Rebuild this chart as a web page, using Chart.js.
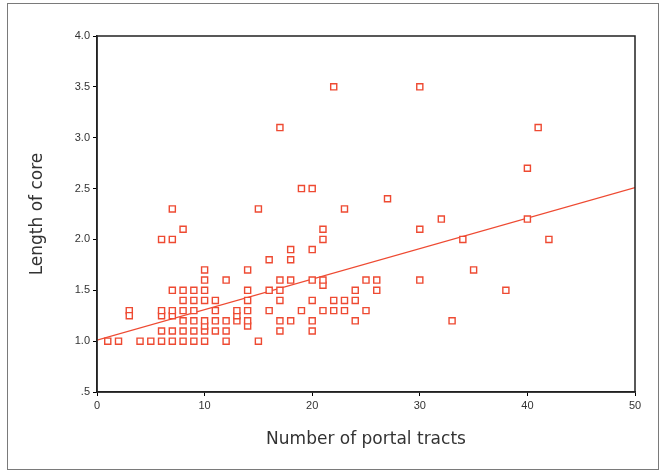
<!DOCTYPE html>
<html>
<head>
<meta charset="utf-8">
<script src="https://cdn.jsdelivr.net/npm/chart.js@4.4.1/dist/chart.umd.min.js"></script>
<style>
  html, body { margin: 0; padding: 0; background: #fff; }
  #wrap { position: relative; width: 662px; height: 473px; }
  #frame { position: absolute; left: 7px; top: 3px; width: 650px; height: 465px;
           border: 1.5px solid #7a7a7a; pointer-events: none; }
</style>
</head>
<body>
<div id="wrap">
  <canvas id="grafica" width="662" height="473"></canvas>
  <div id="frame"></div>
</div>
<script>
// datos: numero de tractos portales vs longitud del cilindro
const portalTracts = [
  1, 2, 3, 3, 4, 5,
  6, 6, 6, 6, 6,
  7, 7, 7, 7, 7, 7, 7,
  8, 8, 8, 8, 8, 8, 8,
  9, 9, 9, 9, 9, 9,
  10, 10, 10, 10, 10, 10, 10, 10,
  11, 11, 11, 11,
  12, 12, 12, 12,
  13, 13, 13,
  14, 14, 14, 14, 14, 14,
  15, 15,
  16, 16, 16,
  17, 17, 17, 17, 17, 17,
  18, 18, 18, 18,
  19, 19,
  20, 20, 20, 20, 20, 20,
  21, 21, 21, 21, 21,
  22, 22, 22,
  23, 23, 23,
  24, 24, 24,
  25, 25,
  26, 26,
  27,
  30, 30, 30,
  32, 33, 34, 35, 38, 40, 40, 41, 42
];
const coreLength = [
  1.0, 1.0, 1.3, 1.25, 1.0, 1.0,
  1.0, 1.1, 1.25, 1.3, 2.0,
  1.0, 1.1, 1.25, 1.3, 1.5, 2.0, 2.3,
  1.0, 1.1, 1.2, 1.3, 1.4, 1.5, 2.1,
  1.0, 1.1, 1.2, 1.3, 1.4, 1.5,
  1.0, 1.1, 1.15, 1.2, 1.4, 1.5, 1.6, 1.7,
  1.1, 1.2, 1.3, 1.4,
  1.0, 1.1, 1.2, 1.6,
  1.2, 1.25, 1.3,
  1.15, 1.2, 1.3, 1.4, 1.5, 1.7,
  1.0, 2.3,
  1.3, 1.5, 1.8,
  1.1, 1.2, 1.4, 1.5, 1.6, 3.1,
  1.2, 1.6, 1.8, 1.9,
  1.3, 2.5,
  1.1, 1.2, 1.4, 1.6, 1.9, 2.5,
  1.3, 1.55, 1.6, 2.0, 2.1,
  1.3, 1.4, 3.5,
  1.3, 1.4, 2.3,
  1.2, 1.4, 1.5,
  1.3, 1.6,
  1.5, 1.6,
  2.4,
  1.6, 2.1, 3.5,
  2.2, 1.2, 2.0, 1.7, 1.5, 2.2, 2.7, 3.1, 2.0
];
// recta de regresion (extremos)
const fitX = [0, 50];
const fitY = [1.01, 2.51];

const xTicks = [0, 10, 20, 30, 40, 50];
const yTicks = [0.5, 1.0, 1.5, 2.0, 2.5, 3.0, 3.5, 4.0];

const ROJO = '#ee4a32';

const puntos = portalTracts.map((x, i) => ({ x: x, y: coreLength[i] }));
const recta = fitX.map((x, i) => ({ x: x, y: fitY[i] }));

// marco completo del area del grafico (arriba y derecha)
const marcoArea = {
  id: 'marcoArea',
  afterDraw(chart) {
    const { ctx, chartArea: a } = chart;
    ctx.save();
    ctx.strokeStyle = '#222';
    ctx.lineWidth = 1.5;
    ctx.strokeRect(a.left, a.top, a.right - a.left, a.bottom - a.top);
    ctx.restore();
  }
};

new Chart(document.getElementById('grafica'), {
  type: 'scatter',
  data: {
    datasets: [
      {
        data: puntos,
        pointStyle: 'rect',
        pointRadius: 4.3,
        pointBorderWidth: 1.4,
        borderColor: ROJO,
        backgroundColor: '#fff',
        pointHoverRadius: 4.3
      },
      {
        type: 'line',
        data: recta,
        borderColor: ROJO,
        borderWidth: 1.2,
        pointRadius: 0,
        fill: false
      }
    ]
  },
  options: {
    responsive: false,
    animation: false,
    layout: { padding: { top: 36, right: 27, left: 0, bottom: 0 } },
    plugins: { legend: { display: false }, tooltip: { enabled: false } },
    scales: {
      x: {
        type: 'linear',
        min: 0, max: 50,
        afterFit(s) { s.height = 81; },
        afterBuildTicks(s) { s.ticks = xTicks.map(v => ({ value: v })); },
        grid: { display: true, drawOnChartArea: false, tickLength: 4, color: '#000' },
        border: { display: true, color: '#222', width: 1.5 },
        ticks: { color: '#333', padding: 3, font: { family: 'Liberation Sans', size: 11 } },
        title: {
          display: true, text: 'Number of portal tracts', color: '#333',
          font: { family: 'DejaVu Sans', size: 17 }, padding: { bottom: 23 }
        }
      },
      y: {
        type: 'linear',
        min: 0.5, max: 4.0,
        afterFit(s) { s.width = 97; },
        afterBuildTicks(s) { s.ticks = yTicks.map(v => ({ value: v })); },
        grid: { display: true, drawOnChartArea: false, tickLength: 4, color: '#000' },
        border: { display: true, color: '#222', width: 1.5 },
        ticks: {
          color: '#333', padding: 3, font: { family: 'Liberation Sans', size: 11 },
          callback: v => v === 0.5 ? '.5' : Number(v).toFixed(1)
        },
        title: {
          display: true, text: 'Length of core', color: '#333',
          font: { family: 'DejaVu Sans', size: 17 }, padding: { top: 27 }
        }
      }
    }
  },
  plugins: [marcoArea]
});
</script>
</body>
</html>
